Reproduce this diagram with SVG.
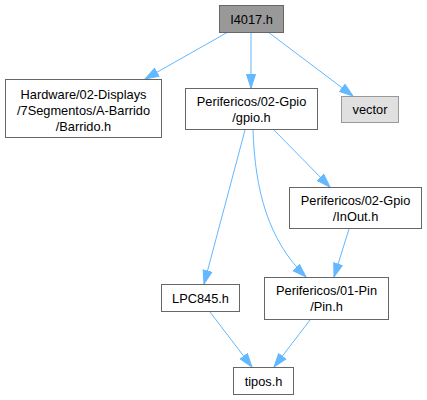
<svg xmlns="http://www.w3.org/2000/svg" width="427" height="400" viewBox="0 0 427 400">
<defs>
<style>
.n rect{fill:#fff;stroke:#666;stroke-width:1}
text{font-family:"Liberation Sans",Arial,sans-serif;font-size:12.8px;fill:#000;text-anchor:middle}
.e{fill:none;stroke:#63b8ff;stroke-width:1;marker-end:url(#a)}
</style>
<marker id="a" markerUnits="userSpaceOnUse" markerWidth="16" markerHeight="12" refX="14" refY="5.5" orient="auto">
<path d="M0.5,1 L14,5.5 L0.5,10 Z" fill="#63b8ff" stroke="#63b8ff"/>
</marker>
</defs>
<rect width="427" height="400" fill="#fff"/>
<g id="edges">
<path class="e" d="M228,32 L145,79"/>
<path class="e" d="M251,32 L251,88"/>
<path class="e" d="M268,32 L353,96"/>
<path class="e" d="M245,130 L204,284"/>
<path class="e" d="M253,130 C255,190 268,240 306,277"/>
<path class="e" d="M274,130 L330,187"/>
<path class="e" d="M349,229 L334,277"/>
<path class="e" d="M210,312 L252,367"/>
<path class="e" d="M310,320 L274,367"/>
</g>
<g id="I4017" class="n"><rect x="219.5" y="5.5" width="64" height="27" style="fill:#999"/><text x="251.5" y="23.5">I4017.h</text></g>
<g id="Barrido" class="n"><rect x="5.5" y="79.5" width="156" height="58"/><text x="83.5" y="98.5">Hardware/02-Displays</text><text x="83.5" y="114.5">/7Segmentos/A-Barrido</text><text x="83.5" y="130.5">/Barrido.h</text></g>
<g id="gpio" class="n"><rect x="185.5" y="88.5" width="132" height="41"/><text x="251.5" y="105.5">Perifericos/02-Gpio</text><text x="251.5" y="121.5">/gpio.h</text></g>
<g id="vector" class="n"><rect x="341.5" y="96.5" width="57" height="26" style="fill:#e0e0e0;stroke:#999"/><text x="370" y="114">vector</text></g>
<g id="InOut" class="n"><rect x="289.5" y="187.5" width="132" height="41"/><text x="355.5" y="204.5">Perifericos/02-Gpio</text><text x="355.5" y="220.5">/InOut.h</text></g>
<g id="LPC845" class="n"><rect x="161.5" y="284.5" width="78" height="27"/><text x="200.5" y="302.5">LPC845.h</text></g>
<g id="Pin" class="n"><rect x="264.5" y="277.5" width="124" height="42"/><text x="326.5" y="294.5">Perifericos/01-Pin</text><text x="326.5" y="310.5">/Pin.h</text></g>
<g id="tipos" class="n"><rect x="233.5" y="367.5" width="60" height="27"/><text x="263.5" y="385.5">tipos.h</text></g>
</svg>
